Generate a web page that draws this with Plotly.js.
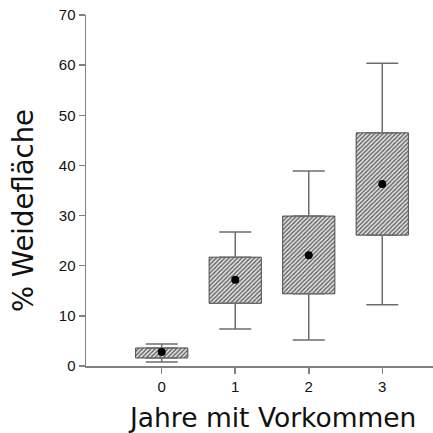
<!DOCTYPE html>
<html><head><meta charset="utf-8">
<script src="https://cdn.plot.ly/plotly-3.0.1.min.js"></script>
<style>html,body{margin:0;padding:0;background:#fff}#c{width:433px;height:433px}</style>
</head><body><div id="c"></div>
<script>
const categories = [0, 1, 2, 3];
const lowerWhisker = [0.8, 7.4, 5.2, 12.2];
const q1 = [1.6, 12.5, 14.4, 26.1];
const q3 = [3.6, 21.7, 29.9, 46.5];
const upperWhisker = [4.4, 26.7, 38.9, 60.4];
const means = [2.8, 17.2, 22.1, 36.3];
const yTicks = [0, 10, 20, 30, 40, 50, 60, 70];

const whiskerColor = '#6e6e6e';
const traces = [
  {
    type: 'bar', x: categories, base: q1, y: q3.map((v, i) => v - q1[i]),
    width: 0.71,
    marker: {color: '#d9d9d9', line: {color: '#4a4a4a', width: 1},
      pattern: {shape: '/', fgcolor: '#555555', bgcolor: '#e0e0e0', size: 3, solidity: 0.4}},
    hoverinfo: 'skip'
  },
  {
    type: 'scatter', mode: 'markers', x: categories, y: q3,
    marker: {size: 1, color: 'rgba(0,0,0,0)'},
    error_y: {type: 'data', symmetric: false, array: upperWhisker.map((v, i) => v - q3[i]),
      arrayminus: q3.map(() => 0), color: whiskerColor, thickness: 1.5, width: 16}
  },
  {
    type: 'scatter', mode: 'markers', x: categories, y: q1,
    marker: {size: 1, color: 'rgba(0,0,0,0)'},
    error_y: {type: 'data', symmetric: false, array: q1.map(() => 0),
      arrayminus: q1.map((v, i) => v - lowerWhisker[i]), color: whiskerColor, thickness: 1.5, width: 16}
  },
  {
    type: 'scatter', mode: 'markers', x: categories, y: means,
    marker: {size: 8, color: '#000000'}
  }
];

const layout = {
  width: 433, height: 433,
  margin: {l: 86, r: 0, t: 15, b: 67},
  paper_bgcolor: '#ffffff', plot_bgcolor: '#ffffff',
  showlegend: false,
  font: {family: 'Arial, Liberation Sans, sans-serif', color: '#111'},
  xaxis: {
    range: [-1.03, 3.69], tickvals: categories, ticktext: categories.map(String),
    showgrid: false, zeroline: false, showline: true, linecolor: '#808080', linewidth: 1.5,
    ticks: 'outside', ticklen: 6, tickwidth: 1.5, tickcolor: '#808080',
    tickfont: {size: 15, color: '#111'}
  },
  yaxis: {
    range: [0, 70], tickvals: yTicks,
    showgrid: false, zeroline: false, showline: true, linecolor: '#808080', linewidth: 1.5,
    ticks: 'outside', ticklen: 6, tickwidth: 1.5, tickcolor: '#808080',
    tickfont: {size: 15, color: '#111'}
  },
  annotations: [
    {text: 'Jahre mit Vorkommen', xref: 'paper', yref: 'paper', x: 0.535, y: -0.148,
     xanchor: 'center', yanchor: 'middle', showarrow: false,
     font: {family: 'DejaVu Sans, sans-serif', size: 26.5, color: '#111'}},
    {text: '% Weidefläche', xref: 'paper', yref: 'paper', x: -0.182, y: 0.444,
     xanchor: 'center', yanchor: 'middle', textangle: -90, showarrow: false,
     font: {family: 'DejaVu Sans, sans-serif', size: 27.5, color: '#111'}}
  ]
};
Plotly.newPlot('c', traces, layout, {displayModeBar: false, staticPlot: true});
</script></body></html>
